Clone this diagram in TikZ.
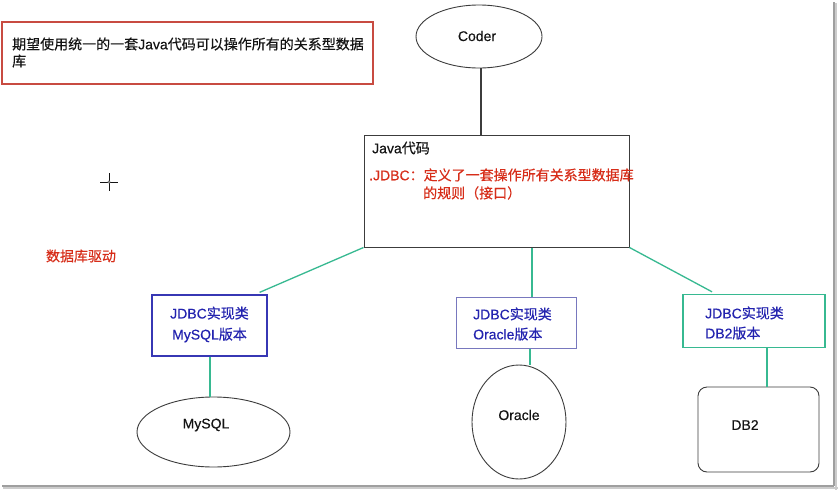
\documentclass[tikz,border=0pt]{standalone}
\usepackage{fontspec}
\setmainfont{Liberation Sans}[FakeBold=0.35]
\newfontfamily\cjk{Noto Sans CJK SC}[FakeBold=0.35]
\usetikzlibrary{shapes.geometric}
\definecolor{boxred}{RGB}{200,75,65}
\definecolor{txtred}{RGB}{215,45,25}
\definecolor{linegreen}{RGB}{55,185,145}
\definecolor{boxblue}{RGB}{55,55,180}
\definecolor{boxblueL}{RGB}{120,120,190}
\definecolor{txtblue}{RGB}{35,35,175}
\definecolor{edge}{RGB}{60,60,60}
\definecolor{ink}{RGB}{20,20,20}
\begin{document}
\begin{tikzpicture}[x=1pt,y=-1pt,
  txt/.style={inner sep=0pt, font=\fontsize{14}{17}\selectfont, align=left, text=ink},
  frame/.style={inner sep=0pt, line width=1.1pt},
  oval/.style={ellipse, draw=edge, line width=0.9pt, inner sep=0pt},
  conn/.style={draw=linegreen, line width=1.3pt},
]
\useasboundingbox (0,0) rectangle (838,490);
\fill[white] (0,0) rectangle (838,490);
% screenshot shadow
\draw[gray!75, line width=1.6pt] (834,2) -- (834,486);
\draw[gray!40, line width=1.6pt] (836,3) -- (836,490);
\draw[gray!75, line width=1.6pt] (2,486) -- (834,486);
\draw[gray!40, line width=1.6pt] (3,488) -- (838,488);

% top-left red note
\node[frame, draw=boxred, minimum width=371pt, minimum height=62pt] (note) at (187.5,53) {};
\node[txt, anchor=west] (notet) at (12,52.5) {{\cjk 期望使用统一的一套}Java{\cjk 代码可以操作所有的关系型数据}\\{\cjk 库}};

% Coder
\node[oval, minimum width=126pt, minimum height=63pt] (coder) at (479,36.5) {};
\node[txt] (codert) at (477,36) {Coder};

% Java box
\node[frame, draw=edge, line width=1pt, minimum width=265pt, minimum height=112pt] (java) at (496.5,191) {};
\node[txt, anchor=west] (javat) at (372,148) {Java{\cjk 代码}};
\node[txt, anchor=west, text=txtred, font=\fontsize{14}{18}\selectfont] (jdbc) at (369,184)
  {.JDBC{\cjk ：定义了一套操作所有关系型数据库}\\\hspace*{54pt}{\cjk 的规则（接口）}};

% crosshair
\draw[ink, line width=0.9pt] (100,182) -- (118,182);
\draw[ink, line width=0.9pt] (109,173) -- (109,191);
\fill[gray] (109,182) circle (1.6pt);

% driver label
\node[txt, text=txtred] (driver) at (81,256) {\cjk 数据库驱动};

% implementation boxes
\node[frame, draw=boxblue, line width=1.3pt, minimum width=115pt, minimum height=61pt] (mysql) at (209.5,325.5) {};
\node[txt, text=txtblue, align=center, font=\fontsize{14}{21}\selectfont] (mysqlt) at (209.5,324.5) {JDBC{\cjk 实现类}\\MySQL{\cjk 版本}};

\node[frame, draw=boxblueL, minimum width=120pt, minimum height=51pt] (oracle) at (516.5,323) {};
\node[txt, text=txtblue, anchor=west, font=\fontsize{14}{20}\selectfont] (oraclet) at (473,324) {JDBC{\cjk 实现类}\\Oracle{\cjk 版本}};

\node[frame, draw=linegreen, line width=1.4pt, minimum width=142pt, minimum height=53pt] (db) at (754,321) {};
\node[txt, text=txtblue, anchor=west, font=\fontsize{14}{20}\selectfont] (dbt) at (705,323) {JDBC{\cjk 实现类}\\DB2{\cjk 版本}};

% databases
\node[oval, minimum width=153pt, minimum height=70pt] (mysqldb) at (213.5,432) {};
\node[txt] (mysqldbt) at (206,425) {MySQL};
\node[oval, minimum width=94pt, minimum height=114pt] (oracledb) at (519,422) {};
\node[txt] (oracledbt) at (519,415) {Oracle};
\node[draw=edge, line width=0.9pt, rounded corners=9pt, inner sep=0pt, minimum width=121pt, minimum height=85pt] (db2) at (758.5,429.5) {};
\node[txt] (db2t) at (745,425) {DB2};

% connectors
\draw[edge, line width=1.1pt] ([xshift=2pt]coder.south) -- ([xshift=2pt]coder.south |- java.north);
\draw[conn] (java.south west) -- ([xshift=-8pt,yshift=2pt]mysql.north east);
\draw[conn] ([xshift=15.5pt]oracle.north |- java.south) -- ([xshift=15.5pt]oracle.north);
\draw[conn] (java.south east) -- ([xshift=-42pt,yshift=2pt]db.north);
\draw[conn] ([xshift=0.5pt]mysql.south) -- ([xshift=0.5pt]mysql.south |- mysqldb.north);
\draw[conn] ([xshift=13.5pt]oracle.south) -- ([xshift=13.5pt]oracle.south |- oracledb.north);
\draw[conn] ([xshift=13pt]db.south) -- ([xshift=13pt]db.south |- db2.north);
\end{tikzpicture}
\end{document}
